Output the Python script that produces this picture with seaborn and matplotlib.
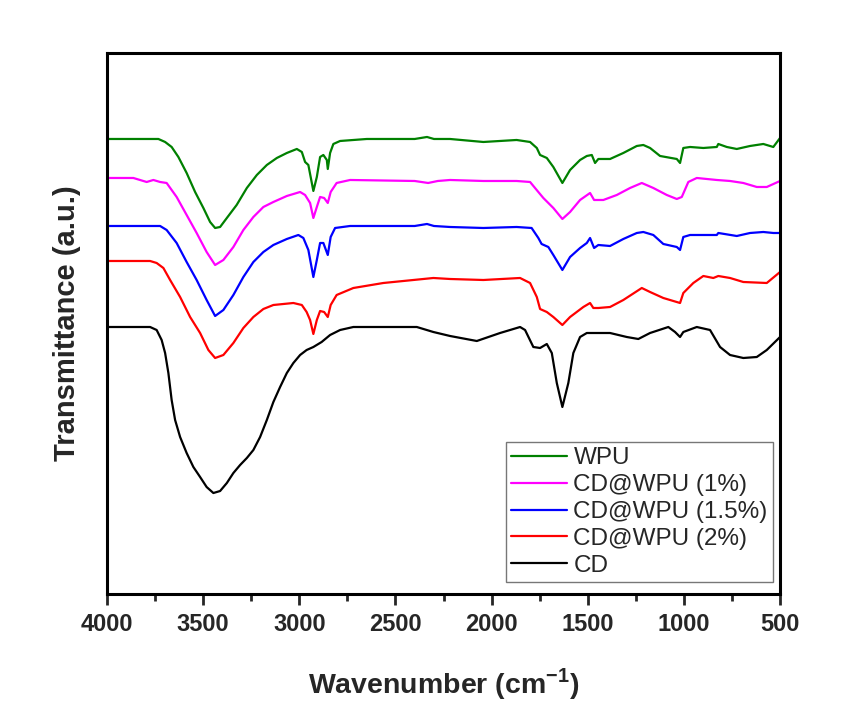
import pandas as pd
import matplotlib
matplotlib.use("Agg")
import matplotlib.pyplot as plt
import seaborn as sns

wn_wpu = [4000, 3800, 3733, 3698, 3664, 3629, 3586, 3542, 3499, 3464, 3438, 3412, 3377, 3326,
          3273, 3221, 3169, 3117, 3065, 3013, 2987, 2970, 2953, 2927, 2909, 2892, 2875, 2857,
          2852, 2840, 2823, 2788, 2649, 2400, 2336, 2300, 2216, 2043, 1870, 1800, 1765, 1748,
          1713, 1679, 1632, 1592, 1540, 1505, 1479, 1462, 1445, 1384, 1315, 1245, 1211, 1176,
          1124, 1037, 1020, 1003, 968, 899, 829, 821, 777, 725, 656, 587, 535, 500]
t_wpu = [455, 455, 455, 452, 447, 437, 421, 402, 386, 372, 366, 367, 376, 389,
         406, 419, 429, 436, 441, 445, 442, 432, 429, 403, 417, 437, 439, 434,
         425, 441, 450, 453, 455, 455, 457, 455, 455, 452, 454, 452, 446, 439,
         436, 427, 411, 424, 434, 438, 439, 431, 435, 435, 441, 448, 449, 446,
         438, 435, 431, 446, 447, 446, 447, 450, 447, 445, 448, 450, 447, 456]

wn_1 = [4000, 3863, 3794, 3759, 3724, 3690, 3638, 3586, 3534, 3482, 3438, 3395, 3343, 3291,
        3239, 3187, 3135, 3065, 2996, 2970, 2944, 2927, 2909, 2892, 2871, 2852, 2837, 2806,
        2736, 2400, 2330, 2280, 2216, 2043, 1870, 1800, 1757, 1731, 1679, 1632, 1592, 1540,
        1488, 1467, 1419, 1349, 1280, 1219, 1159, 1089, 1037, 1011, 977, 933, 829, 760,
        691, 621, 569, 500]
t_1 = [416, 416, 412, 414, 412, 411, 397, 379, 361, 342, 329, 334, 347, 364,
       377, 387, 392, 398, 402, 399, 391, 376, 387, 397, 396, 391, 402, 411,
       414, 413, 411, 413, 414, 413, 413, 412, 402, 396, 386, 375, 382, 394,
       401, 394, 394, 399, 406, 411, 406, 399, 395, 397, 412, 416, 414, 413,
       411, 407, 407, 413]

wn_15 = [4000, 3800, 3724, 3690, 3638, 3586, 3534, 3482, 3438, 3395, 3343, 3291, 3239, 3187,
         3135, 3065, 3005, 2979, 2953, 2927, 2909, 2892, 2875, 2852, 2837, 2814, 2736, 2400,
         2336, 2300, 2216, 2043, 1870, 1792, 1757, 1740, 1705, 1679, 1632, 1592, 1540, 1505,
         1488, 1467, 1445, 1384, 1315, 1245, 1211, 1159, 1107, 1037, 1020, 1003, 968, 829,
         821, 725, 656, 587, 535, 500]
t_15 = [368, 368, 368, 364, 351, 332, 314, 294, 278, 284, 299, 317, 332, 342,
        349, 355, 359, 356, 344, 317, 334, 351, 351, 339, 357, 366, 368, 368,
        370, 368, 367, 366, 367, 366, 356, 350, 347, 339, 324, 337, 346, 351,
        356, 346, 349, 348, 355, 361, 362, 359, 350, 347, 344, 357, 359, 359,
        361, 358, 361, 362, 361, 361]

wn_2 = [4000, 3776, 3742, 3707, 3672, 3620, 3568, 3516, 3473, 3438, 3395, 3343, 3291, 3239,
        3187, 3135, 3031, 2987, 2962, 2944, 2927, 2909, 2892, 2871, 2852, 2837, 2806, 2719,
        2563, 2303, 2216, 2043, 1852, 1800, 1765, 1748, 1713, 1679, 1632, 1592, 1523, 1488,
        1471, 1445, 1384, 1315, 1219, 1176, 1107, 1020, 1003, 951, 899, 847, 821, 760,
        691, 569, 500]
t_2 = [333, 333, 331, 326, 314, 297, 277, 261, 244, 236, 239, 251, 266, 277,
       285, 289, 291, 289, 282, 274, 260, 274, 283, 282, 277, 289, 299, 306,
       311, 316, 315, 314, 316, 311, 297, 285, 282, 277, 269, 277, 287, 291,
       286, 286, 287, 294, 306, 302, 296, 291, 301, 311, 318, 316, 318, 316,
       312, 311, 322]

wn_cd = [4000, 3776, 3742, 3716, 3698, 3681, 3664, 3646, 3620, 3586, 3551, 3516, 3482, 3447,
         3412, 3377, 3343, 3308, 3273, 3239, 3204, 3169, 3135, 3100, 3065, 3031, 2996, 2962,
         2927, 2884, 2840, 2788, 2719, 2389, 2303, 2216, 2077, 1956, 1852, 1826, 1783, 1748,
         1713, 1687, 1661, 1632, 1601, 1575, 1540, 1505, 1384, 1297, 1237, 1176, 1081, 1046,
         1020, 1003, 933, 864, 812, 760, 691, 621, 569, 500]
t_cd = [267, 267, 264, 254, 241, 221, 194, 174, 157, 141, 127, 117, 107, 101,
        103, 111, 121, 129, 136, 144, 157, 174, 192, 207, 221, 231, 239, 244,
        247, 252, 259, 264, 267, 267, 262, 258, 253, 261, 267, 264, 247, 246,
        250, 241, 211, 187, 211, 241, 257, 261, 261, 257, 255, 261, 267, 262,
        257, 262, 267, 264, 247, 239, 236, 237, 244, 257]

labels = ["WPU", "CD@WPU (1%)", "CD@WPU (1.5%)", "CD@WPU (2%)", "CD"]
colors = ["#008000", "#ff00ff", "#0000ff", "#ff0000", "#000000"]
series = [(wn_wpu, t_wpu), (wn_1, t_1), (wn_15, t_15), (wn_2, t_2), (wn_cd, t_cd)]

frames = []
for lab, (w, t) in zip(labels, series):
    frames.append(pd.DataFrame({"wn": w, "T": t, "sample": lab}))
df = pd.concat(frames, ignore_index=True)

sns.set_style("ticks")
plt.rcParams['font.family'] = ['Liberation Sans', 'DejaVu Sans']
plt.rcParams['mathtext.fontset'] = 'custom'
plt.rcParams['mathtext.rm'] = 'Liberation Sans:bold'
plt.rcParams['mathtext.bf'] = 'Liberation Sans:bold'

fig = plt.figure(figsize=(8.57, 7.12), dpi=100)
ax = fig.add_axes([0.1249, 0.1657, 0.7853, 0.7599])

sns.lineplot(data=df, x="wn", y="T", hue="sample", hue_order=labels,
             palette=dict(zip(labels, colors)), sort=False, estimator=None,
             linewidth=1.6, ax=ax)

ax.set_xlim(4000, 500)
ax.set_ylim(0, 541)
ax.set_xticks([4000, 3500, 3000, 2500, 2000, 1500, 1000, 500])
ax.set_xticks([3750, 3250, 2750, 2250, 1750, 1250, 750], minor=True)
ax.set_yticks([])
for s in ax.spines.values():
    s.set_linewidth(2.2)
    s.set_color("black")
ax.tick_params(axis="x", which="major", length=8, width=2, labelsize=17,
               direction="out", pad=5.5)
ax.tick_params(axis="x", which="minor", length=5, width=2, direction="out")
for lb in ax.get_xticklabels():
    lb.set_fontweight("bold")

ax.set_xlabel(r"Wavenumber (cm$^{-1}$)", fontsize=20.5, fontweight="bold", labelpad=22)
ax.set_ylabel("Transmittance (a.u.)", fontsize=21, fontweight="bold", labelpad=19)

leg = ax.legend(loc="lower right", bbox_to_anchor=(0.9896, 0.022), borderaxespad=0,
                fontsize=17.5, handlelength=2.3, labelspacing=0.2, handletextpad=0.25,
                fancybox=False, frameon=True, borderpad=0.22)
leg.get_frame().set_edgecolor("#555555")
leg.get_frame().set_linewidth(1.0)
for h in leg.get_lines():
    h.set_linewidth(1.6)

fig.savefig("out.png", dpi=100)
